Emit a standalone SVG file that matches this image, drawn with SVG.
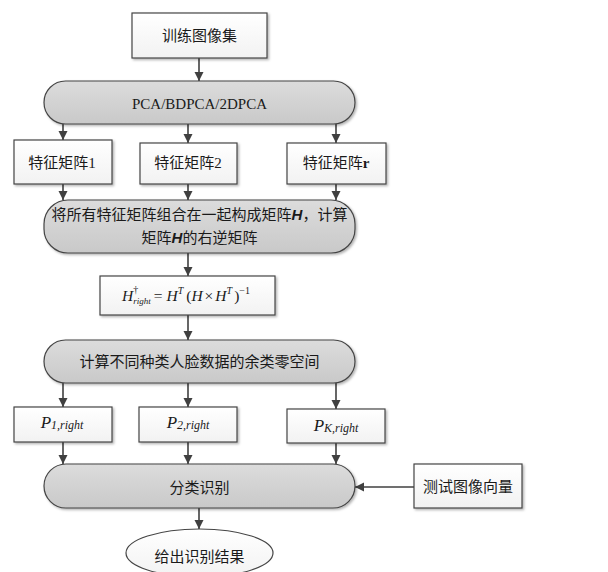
<svg xmlns="http://www.w3.org/2000/svg" width="608" height="572" viewBox="0 0 608 572">
<style>
.box{fill:url(#gBox);stroke:#454545;stroke-width:1.2;filter:url(#sh)}
.pill{fill:url(#gPill);stroke:#454545;stroke-width:1.2;filter:url(#sh)}
.cn{font-family:"Liberation Serif","Noto Sans CJK SC",serif;font-size:15px;fill:#1a1a1a;text-anchor:middle}
.mt{font-family:"Liberation Serif",serif;font-style:italic;fill:#1a1a1a}
.ln{stroke:#404040;stroke-width:1.6;fill:none;marker-end:url(#ah)}
</style>
<defs>
<linearGradient id="gBox" x1="0" y1="0" x2="0" y2="1"><stop offset="0" stop-color="#ffffff"/><stop offset="1" stop-color="#f2f2f2"/></linearGradient>
<linearGradient id="gPill" x1="0" y1="0" x2="0" y2="1"><stop offset="0" stop-color="#dcdcdc"/><stop offset="1" stop-color="#c9c9c9"/></linearGradient>
<filter id="sh" x="-10%" y="-10%" width="130%" height="140%"><feDropShadow dx="1.5" dy="1.5" stdDeviation="1" flood-color="#000" flood-opacity="0.3"/></filter>
<marker id="ah" markerUnits="userSpaceOnUse" markerWidth="10" markerHeight="10" refX="9" refY="5" orient="auto"><path d="M0,0.5 L9,5 L0,9.5 z" fill="#404040"/></marker>
</defs>
<g id="connectors">
<line class="ln" x1="199" y1="58" x2="199" y2="81"/>
<line class="ln" x1="63" y1="124" x2="63" y2="140"/>
<line class="ln" x1="188" y1="124" x2="188" y2="143"/>
<line class="ln" x1="336" y1="124" x2="336" y2="143"/>
<line class="ln" x1="63" y1="184" x2="63" y2="200"/>
<line class="ln" x1="188" y1="184" x2="188" y2="200"/>
<line class="ln" x1="336" y1="184" x2="336" y2="200"/>
<line class="ln" x1="188" y1="253" x2="188" y2="276"/>
<line class="ln" x1="188" y1="315" x2="188" y2="340"/>
<line class="ln" x1="63" y1="383" x2="63" y2="407"/>
<line class="ln" x1="188" y1="383" x2="188" y2="407"/>
<line class="ln" x1="336" y1="383" x2="336" y2="409"/>
<line class="ln" x1="63" y1="442" x2="63" y2="464"/>
<line class="ln" x1="188" y1="442" x2="188" y2="464"/>
<line class="ln" x1="336" y1="443" x2="336" y2="464"/>
<line class="ln" x1="414" y1="487" x2="355" y2="487"/>
<line class="ln" x1="199" y1="508" x2="199" y2="529"/>
</g>
<g id="n_train"><rect class="box" x="132" y="13" width="135" height="45"/><text class="cn" x="199.5" y="41">训练图像集</text></g>
<g id="n_pca"><rect class="pill" x="44" y="81" width="311" height="43" rx="21.5"/><text class="cn" x="199.5" y="108.5">PCA/BDPCA/2DPCA</text></g>
<g id="n_f1"><rect class="box" x="14" y="140" width="98" height="44"/><text class="cn" x="62" y="168">特征矩阵1</text></g>
<g id="n_f2"><rect class="box" x="140" y="143" width="97" height="41"/><text class="cn" x="188" y="168">特征矩阵2</text></g>
<g id="n_fr"><rect class="box" x="287" y="143" width="99" height="41"/><text class="cn" x="336" y="168">特征矩阵<tspan font-weight="bold">r</tspan></text></g>
<g id="n_comb"><rect class="pill" x="44" y="200" width="311" height="53" rx="24"/>
<text class="cn" x="199.5" y="220">将所有特征矩阵组合在一起构成矩阵<tspan font-family="'Liberation Sans',sans-serif" font-style="italic" font-weight="bold">H</tspan>，计算</text>
<text class="cn" x="199.5" y="243">矩阵<tspan font-family="'Liberation Sans',sans-serif" font-style="italic" font-weight="bold">H</tspan>的右逆矩阵</text></g>
<g id="n_formula"><rect class="box" x="100" y="276" width="175" height="39"/>
<text class="mt" x="122" y="301" font-size="15.5">H<tspan font-style="normal" font-size="10" dy="-8">†</tspan><tspan font-size="9" dx="-5" dy="11">right</tspan><tspan font-style="normal" dx="3" dy="-3">=</tspan><tspan dx="4">H</tspan><tspan font-size="10" dy="-7">T</tspan><tspan font-style="normal" dx="3" dy="7">(</tspan><tspan>H</tspan><tspan font-style="normal" dx="2">×</tspan><tspan dx="2">H</tspan><tspan font-size="10" dy="-7">T</tspan><tspan font-style="normal" dx="2" dy="7">)</tspan><tspan font-style="normal" font-size="10" dy="-7">−1</tspan></text></g>
<g id="n_null"><rect class="pill" x="44" y="340" width="311" height="43" rx="21.5"/><text class="cn" x="199.5" y="367">计算不同种类人脸数据的余类零空间</text></g>
<g id="n_p1"><rect class="box" x="14" y="407" width="98" height="35"/><text class="mt" x="62" y="428" text-anchor="middle" font-size="17">P<tspan font-size="12" dy="1">1,right</tspan></text></g>
<g id="n_p2"><rect class="box" x="139" y="407" width="98" height="35"/><text class="mt" x="188" y="428" text-anchor="middle" font-size="17">P<tspan font-size="12" dy="1">2,right</tspan></text></g>
<g id="n_pk"><rect class="box" x="287" y="409" width="98" height="34"/><text class="mt" x="336" y="431" text-anchor="middle" font-size="17">P<tspan font-size="12" dy="1">K,right</tspan></text></g>
<g id="n_cls"><rect class="pill" x="44" y="464" width="311" height="44" rx="22"/><text class="cn" x="199.5" y="493">分类识别</text></g>
<g id="n_test"><rect class="box" x="414" y="464" width="108" height="44"/><text class="cn" x="468" y="492">测试图像向量</text></g>
<g id="n_result"><ellipse cx="199.5" cy="553" rx="73.5" ry="24" fill="url(#gBox)" stroke="#454545" stroke-width="1.2"/><text class="cn" x="199.5" y="562">给出识别结果</text></g>
</svg>
